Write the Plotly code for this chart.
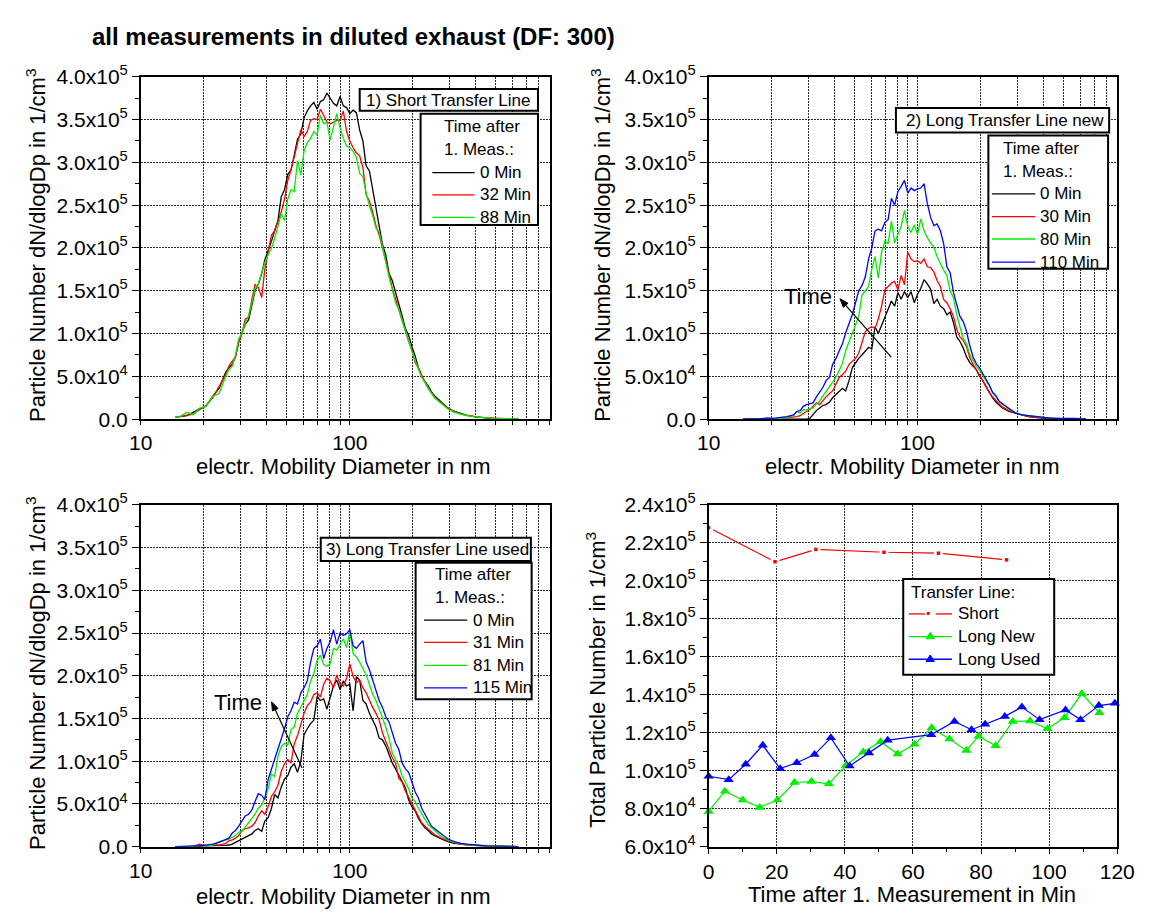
import math
import plotly.graph_objects as go

FIG_W, FIG_H = 1155, 919
FONT = "Liberation Sans, Arial, Helvetica, sans-serif"

# ---------------------------------------------------------------- data
# SMPS channel mid-point diameters, nm
DIAMETER_NM = [
    14.6, 15.4, 16.6, 17.8, 19.1, 20.5, 22.1, 23.7,
    25.5, 26.4, 27.4, 28.4, 29.4, 30.5, 31.6, 32.8, 34.0, 35.2,
    36.5, 37.9, 39.2, 40.7, 42.2, 43.7, 45.3, 47.0, 48.7, 50.5,
    52.3, 54.2, 56.2, 58.3, 60.4, 62.6, 64.9, 67.3, 69.8, 72.3,
    75.0, 77.7, 80.6, 83.5, 86.6, 89.8, 93.1, 96.5, 100.0, 103.7,
    107.5, 111.4, 115.5, 119.7, 124.1, 128.6, 133.4, 138.2, 143.3, 148.6,
    154.0, 159.6, 165.5, 171.5, 177.8, 184.4, 191.1, 198.1, 205.4, 212.9,
    220.7, 228.8, 237.2, 245.9, 254.9,
    273.9, 294.3, 316.3, 339.9, 365.3, 392.5, 421.8, 453.3, 487.1, 523.5,
    562.5, 604.5, 640.0,
]

# dN/dlogDp in units of 1e5 per cm^3
# 1) short transfer line
SHORT_0MIN = [
    0.02, 0.03, 0.04, 0.08, 0.12, 0.15, 0.27, 0.36,
    0.55, 0.60, 0.64, 0.73, 0.90, 1.01, 1.11, 1.16, 1.32, 1.50,
    1.58, 1.70, 1.86, 1.96, 2.08, 2.20, 2.32, 2.60, 2.68, 2.86,
    2.91, 3.08, 3.27, 3.33, 3.52, 3.60, 3.66, 3.70, 3.62, 3.71,
    3.73, 3.81, 3.74, 3.69, 3.66, 3.77, 3.66, 3.64, 3.57, 3.61,
    3.58, 3.38, 3.25, 2.96, 2.90, 2.68, 2.48, 2.26, 2.04, 1.92,
    1.70, 1.62, 1.49, 1.36, 1.21, 1.06, 0.98, 0.85, 0.74, 0.60,
    0.50, 0.44, 0.39, 0.32, 0.27,
    0.20, 0.13, 0.09, 0.065, 0.045, 0.03, 0.02, 0.015, 0.01, 0.008,
    0.006, 0.004, 0.003,
]
SHORT_32MIN = [
    0.02, 0.03, 0.05, 0.06, 0.11, 0.16, 0.25, 0.38,
    0.52, 0.62, 0.67, 0.73, 0.90, 1.00, 1.17, 1.19, 1.40, 1.57,
    1.54, 1.42, 1.75, 1.95, 2.15, 2.20, 2.30, 2.42, 2.57, 2.79,
    2.91, 3.06, 3.19, 3.38, 3.30, 3.36, 3.49, 3.51, 3.50, 3.62,
    3.55, 3.47, 3.45, 3.47, 3.49, 3.49, 3.60, 3.36, 3.25, 3.17,
    3.11, 3.08, 2.94, 2.62, 2.55, 2.42, 2.26, 2.15, 2.00, 1.87,
    1.70, 1.53, 1.40, 1.28, 1.17, 1.02, 0.91, 0.81, 0.66, 0.60,
    0.51, 0.43, 0.36, 0.30, 0.25,
    0.19, 0.13, 0.09, 0.06, 0.045, 0.03, 0.02, 0.015, 0.01, 0.008,
    0.006, 0.004, 0.003,
]
SHORT_88MIN = [
    0.02, 0.03, 0.08, 0.05, 0.13, 0.15, 0.27, 0.30,
    0.50, 0.58, 0.62, 0.75, 0.94, 1.00, 1.12, 1.21, 1.36, 1.52,
    1.58, 1.70, 1.83, 1.92, 2.00, 2.11, 2.26, 2.40, 2.32, 2.57,
    2.68, 2.66, 3.02, 2.85, 3.13, 3.23, 3.28, 3.36, 3.32, 3.55,
    3.45, 3.47, 3.26, 3.43, 3.57, 3.40, 3.28, 3.19, 3.17, 3.13,
    3.06, 2.87, 2.83, 2.64, 2.49, 2.38, 2.23, 2.19, 2.00, 1.85,
    1.66, 1.51, 1.36, 1.28, 1.15, 1.02, 0.89, 0.79, 0.68, 0.58,
    0.49, 0.43, 0.36, 0.30, 0.25,
    0.18, 0.12, 0.08, 0.06, 0.04, 0.03, 0.02, 0.015, 0.01, 0.008,
    0.006, 0.004, 0.003,
]

# 2) long transfer line, new
NEW_0MIN = [
    0.0, 0.0, 0.0, 0.0, 0.0, 0.0, 0.0, 0.0,
    0.0, 0.0, 0.0, 0.0, 0.0, 0.01, 0.06, 0.10, 0.13, 0.16,
    0.17, 0.20, 0.25, 0.29, 0.32, 0.36, 0.33, 0.45, 0.60, 0.66,
    0.71, 0.75, 0.79, 0.84, 0.82, 1.08, 1.00, 1.10, 1.20, 1.28,
    1.38, 1.32, 1.48, 1.40, 1.49, 1.42, 1.49, 1.36, 1.46, 1.53,
    1.63, 1.58, 1.52, 1.35, 1.40, 1.32, 1.29, 1.22, 1.25, 1.13,
    0.96, 0.91, 0.83, 0.73, 0.66, 0.62, 0.58, 0.50, 0.45, 0.38,
    0.31, 0.25, 0.20, 0.16, 0.13,
    0.09, 0.07, 0.05, 0.03, 0.02, 0.01, 0.008, 0.006, 0.004, 0.003,
    0.002, 0.001, 0.0,
]
NEW_30MIN = [
    0.0, 0.0, 0.0, 0.0, 0.0, 0.005, 0.01, 0.015,
    0.02, 0.03, 0.04, 0.07, 0.09, 0.11, 0.15, 0.19, 0.17, 0.22,
    0.26, 0.30, 0.33, 0.41, 0.49, 0.52, 0.56, 0.64, 0.68, 0.71,
    0.77, 0.90, 1.02, 1.06, 1.08, 1.06, 1.17, 1.32, 1.51, 1.55,
    1.59, 1.61, 1.51, 1.68, 1.57, 1.95, 1.87, 1.84, 1.85, 1.82,
    1.87, 1.78, 1.77, 1.72, 1.62, 1.55, 1.40, 1.36, 1.29, 1.20,
    1.05, 0.96, 0.92, 0.85, 0.72, 0.64, 0.58, 0.52, 0.45, 0.38,
    0.31, 0.26, 0.22, 0.18, 0.14,
    0.10, 0.07, 0.05, 0.03, 0.02, 0.015, 0.01, 0.008, 0.006, 0.004,
    0.003, 0.002, 0.001,
]
NEW_80MIN = [
    0.0, 0.0, 0.0, 0.0, 0.005, 0.01, 0.01, 0.02,
    0.04, 0.09, 0.07, 0.11, 0.11, 0.12, 0.13, 0.18, 0.21, 0.27,
    0.32, 0.38, 0.43, 0.49, 0.58, 0.65, 0.80, 0.90, 1.02, 1.10,
    1.20, 1.45, 1.50, 1.55, 1.75, 1.90, 1.65, 1.95, 2.08, 2.05,
    2.31, 2.06, 2.16, 2.25, 2.44, 2.25, 2.18, 2.27, 2.16, 2.34,
    2.20, 2.12, 2.06, 2.01, 1.90, 1.82, 1.74, 1.68, 1.50, 1.42,
    1.22, 1.08, 0.94, 0.88, 0.76, 0.69, 0.62, 0.57, 0.51, 0.46,
    0.39, 0.32, 0.28, 0.21, 0.17,
    0.12, 0.08, 0.05, 0.04, 0.03, 0.02, 0.015, 0.01, 0.008, 0.006,
    0.004, 0.003, 0.002,
]
NEW_110MIN = [
    0.0, 0.0, 0.0, 0.005, 0.015, 0.01, 0.02, 0.03,
    0.05, 0.09, 0.10, 0.15, 0.17, 0.18, 0.19, 0.26, 0.31, 0.37,
    0.45, 0.49, 0.64, 0.71, 0.80, 0.88, 1.01, 1.11, 1.22, 1.36,
    1.50, 1.56, 1.66, 1.87, 2.00, 2.20, 2.22, 2.20, 2.30, 2.33,
    2.58, 2.50, 2.66, 2.72, 2.79, 2.64, 2.70, 2.67, 2.69, 2.70,
    2.75, 2.52, 2.36, 2.26, 2.28, 2.20, 2.05, 1.78, 1.71, 1.48,
    1.35, 1.20, 1.14, 1.03, 0.86, 0.73, 0.65, 0.60, 0.53, 0.46,
    0.40, 0.31, 0.27, 0.21, 0.18,
    0.12, 0.07, 0.05, 0.04, 0.03, 0.02, 0.015, 0.01, 0.01, 0.015,
    0.01, 0.005, 0.003,
]

# 3) long transfer line, used
USED_0MIN = [
    0.0, 0.0, 0.0, 0.0, 0.005, 0.01, 0.01, 0.01,
    0.015, 0.02, 0.03, 0.05, 0.07, 0.09, 0.11, 0.13, 0.15, 0.19,
    0.21, 0.18, 0.30, 0.34, 0.45, 0.61, 0.57, 0.70, 0.79, 0.83,
    0.93, 0.97, 0.87, 1.00, 1.31, 1.38, 1.44, 1.48, 1.76, 1.71,
    1.73, 1.61, 1.75, 1.88, 1.95, 1.84, 1.94, 1.88, 1.90, 1.59,
    1.99, 1.95, 1.71, 1.67, 1.56, 1.48, 1.40, 1.27, 1.25, 1.18,
    1.07, 0.98, 0.91, 0.84, 0.76, 0.69, 0.55, 0.47, 0.42, 0.33,
    0.27, 0.22, 0.19, 0.15, 0.13,
    0.09, 0.06, 0.04, 0.03, 0.02, 0.015, 0.01, 0.008, 0.005, 0.004,
    0.003, 0.002, 0.001,
]
USED_31MIN = [
    0.0, 0.0, 0.0, 0.005, 0.03, 0.01, 0.02, 0.02,
    0.04, 0.07, 0.08, 0.10, 0.13, 0.19, 0.21, 0.22, 0.24, 0.28,
    0.36, 0.42, 0.38, 0.47, 0.59, 0.64, 0.72, 0.88, 0.97, 1.02,
    0.98, 1.20, 1.30, 1.44, 1.56, 1.65, 1.69, 1.78, 1.80, 1.75,
    1.90, 1.97, 1.94, 1.86, 2.01, 1.90, 1.88, 1.97, 2.14, 1.99,
    1.92, 1.95, 1.86, 1.80, 1.71, 1.63, 1.56, 1.48, 1.33, 1.23,
    1.14, 1.04, 0.98, 0.80, 0.76, 0.65, 0.58, 0.50, 0.42, 0.35,
    0.28, 0.24, 0.21, 0.17, 0.14,
    0.10, 0.07, 0.05, 0.03, 0.02, 0.015, 0.01, 0.008, 0.006, 0.004,
    0.003, 0.002, 0.001,
]
USED_81MIN = [
    0.0, 0.0, 0.005, 0.005, 0.01, 0.01, 0.02, 0.06,
    0.08, 0.09, 0.11, 0.13, 0.17, 0.18, 0.23, 0.28, 0.33, 0.38,
    0.45, 0.49, 0.57, 0.68, 0.85, 0.82, 1.06, 1.17, 1.21, 1.19,
    1.37, 1.40, 1.56, 1.63, 1.71, 1.78, 1.94, 2.03, 2.18, 2.24,
    2.13, 2.11, 2.14, 2.32, 2.30, 2.37, 2.43, 2.33, 2.52, 2.26,
    2.22, 2.16, 2.09, 2.01, 1.90, 1.78, 1.71, 1.61, 1.52, 1.40,
    1.27, 1.10, 1.02, 0.95, 0.83, 0.76, 0.68, 0.57, 0.53, 0.45,
    0.38, 0.32, 0.26, 0.22, 0.19,
    0.12, 0.08, 0.05, 0.035, 0.025, 0.02, 0.015, 0.01, 0.008, 0.006,
    0.004, 0.003, 0.002,
]
USED_115MIN = [
    0.0, 0.005, 0.005, 0.01, 0.01, 0.02, 0.03, 0.05,
    0.08, 0.10, 0.16, 0.19, 0.24, 0.30, 0.36, 0.38, 0.43, 0.53,
    0.62, 0.60, 0.55, 0.79, 0.91, 1.02, 1.14, 1.25, 1.38, 1.52,
    1.59, 1.69, 1.67, 1.80, 1.86, 1.94, 2.16, 2.32, 2.35, 2.43,
    2.20, 2.32, 2.40, 2.54, 2.37, 2.50, 2.47, 2.49, 2.54, 2.35,
    2.32, 2.37, 2.41, 2.16, 2.07, 1.95, 1.82, 1.71, 1.63, 1.52,
    1.46, 1.33, 1.21, 1.14, 0.98, 0.91, 0.87, 0.76, 0.64, 0.57,
    0.45, 0.38, 0.30, 0.24, 0.21,
    0.15, 0.09, 0.06, 0.04, 0.03, 0.02, 0.015, 0.01, 0.01, 0.008,
    0.005, 0.003, 0.002,
]

# 4) total particle number vs time, in units of 1e5 per cm^3
TIME_SHORT = [0, 19.5, 31.5, 51.5, 67.5, 87.5]
TOTAL_SHORT = [2.28, 2.10, 2.165, 2.15, 2.145, 2.11]
TIME_LONG_NEW = [0, 4.8, 10.0, 15.0, 20.2, 25.2, 30.2, 35.3, 40.3, 45.4, 50.5, 55.5,
                 60.5, 65.5, 70.7, 75.7, 79.3, 84.3, 89.3, 94.4, 99.5, 104.5, 109.6, 114.8]
TOTAL_LONG_NEW = [0.786, 0.892, 0.846, 0.807, 0.846, 0.938, 0.943, 0.931, 1.028, 1.098,
                  1.153, 1.088, 1.139, 1.226, 1.167, 1.107, 1.182, 1.132, 1.259, 1.262,
                  1.221, 1.279, 1.405, 1.305]
TIME_LONG_USED = [0, 5.9, 10.9, 15.9, 21.0, 25.9, 31.1, 35.9, 41.4, 47.1, 52.6, 65.4,
                  72.2, 77.2, 81.2, 87.0, 92.0, 97.2, 104.8, 109.2, 114.6, 119.3]
TOTAL_LONG_USED = [0.971, 0.953, 1.034, 1.134, 1.011, 1.042, 1.085, 1.173, 1.025, 1.093,
                   1.161, 1.190, 1.259, 1.216, 1.245, 1.286, 1.335, 1.269, 1.320, 1.269,
                   1.343, 1.355]

UNIT = 1e5  # values above are given in 1e5 per cm^3

# axis ticks
DIAM_LABELLED = [10, 100]
DIAM_GRID = [20, 30, 40, 50, 60, 70, 80, 90, 200, 300, 400, 500, 600, 700, 800, 900]
CONC_TICKS = [0, 50000, 100000, 150000, 200000, 250000, 300000, 350000, 400000]
CONC_TEXT = ["0.0", "5.0x10<sup>4</sup>", "1.0x10<sup>5</sup>", "1.5x10<sup>5</sup>",
             "2.0x10<sup>5</sup>", "2.5x10<sup>5</sup>", "3.0x10<sup>5</sup>",
             "3.5x10<sup>5</sup>", "4.0x10<sup>5</sup>"]
CONC_MINOR = [25000, 75000, 125000, 175000, 225000, 275000, 325000, 375000]
TOTAL_TICKS = [60000, 80000, 100000, 120000, 140000, 160000, 180000, 200000, 220000, 240000]
TOTAL_TEXT = ["6.0x10<sup>4</sup>", "8.0x10<sup>4</sup>", "1.0x10<sup>5</sup>",
              "1.2x10<sup>5</sup>", "1.4x10<sup>5</sup>", "1.6x10<sup>5</sup>",
              "1.8x10<sup>5</sup>", "2.0x10<sup>5</sup>", "2.2x10<sup>5</sup>",
              "2.4x10<sup>5</sup>"]
TOTAL_MINOR = [70000, 90000, 110000, 130000, 150000, 170000, 190000, 210000, 230000]
TIME_TICKS = [0, 20, 40, 60, 80, 100, 120]
TIME_MINOR = [10, 30, 50, 70, 90, 110]

BLACK, RED, GREEN, BLUE = "#000000", "#ff0000", "#00ee00", "#0000ff"


# ---------------------------------------------------------------- helpers
def X(p):
    return p / FIG_W


def Y(p):
    return 1 - p / FIG_H


fig = go.Figure()


def curve(values, color, xa, ya):
    fig.add_trace(go.Scatter(
        x=DIAMETER_NM, y=[v * UNIT for v in values], mode="lines",
        line=dict(color=color, width=1.3), xaxis=xa, yaxis=ya,
        showlegend=False, hoverinfo="skip"))


curve(SHORT_0MIN, BLACK, "x", "y")
curve(SHORT_32MIN, RED, "x", "y")
curve(SHORT_88MIN, GREEN, "x", "y")

curve(NEW_0MIN, BLACK, "x2", "y2")
curve(NEW_30MIN, RED, "x2", "y2")
curve(NEW_80MIN, GREEN, "x2", "y2")
curve(NEW_110MIN, BLUE, "x2", "y2")

curve(USED_0MIN, BLACK, "x3", "y3")
curve(USED_31MIN, RED, "x3", "y3")
curve(USED_81MIN, GREEN, "x3", "y3")
curve(USED_115MIN, BLUE, "x3", "y3")

# total number vs time
short_y = [v * UNIT for v in TOTAL_SHORT]
fig.add_trace(go.Scatter(x=TIME_SHORT, y=short_y, mode="lines",
                         line=dict(color=RED, width=1.2), xaxis="x4", yaxis="y4",
                         showlegend=False, hoverinfo="skip", cliponaxis=False))
# white halo opens a small gap in the line around each point
fig.add_trace(go.Scatter(x=TIME_SHORT, y=short_y, mode="markers",
                         marker=dict(symbol="square", size=9, color="white"),
                         xaxis="x4", yaxis="y4", showlegend=False,
                         hoverinfo="skip", cliponaxis=False))
fig.add_trace(go.Scatter(x=TIME_SHORT, y=short_y, mode="markers",
                         marker=dict(symbol="square", size=3.5, color=RED),
                         xaxis="x4", yaxis="y4", showlegend=False,
                         hoverinfo="skip", cliponaxis=False))
fig.add_trace(go.Scatter(x=TIME_LONG_NEW, y=[v * UNIT for v in TOTAL_LONG_NEW],
                         mode="lines+markers", line=dict(color=GREEN, width=1.2),
                         marker=dict(symbol="triangle-up", size=9, color=GREEN),
                         xaxis="x4", yaxis="y4", showlegend=False,
                         hoverinfo="skip", cliponaxis=False))
fig.add_trace(go.Scatter(x=TIME_LONG_USED, y=[v * UNIT for v in TOTAL_LONG_USED],
                         mode="lines+markers", line=dict(color=BLUE, width=1.2),
                         marker=dict(symbol="triangle-up", size=9, color=BLUE),
                         xaxis="x4", yaxis="y4", showlegend=False,
                         hoverinfo="skip", cliponaxis=False))

# ---------------------------------------------------------------- axes
LEFT = [X(132.2), X(552.0)]
RIGHT = [X(715.2), X(1134.7)]
TOP = [Y(416.5), Y(64.5)]
BOTTOM = [Y(856.0), Y(504.5)]

TICKFONT = dict(family=FONT, size=21, color="black")
GRIDCOLOR, GRIDDASH = "#2a2a2a", "2px,1px"
GRID = dict(showgrid=True, gridcolor=GRIDCOLOR, griddash=GRIDDASH, gridwidth=1)
FRAME = dict(showline=True, linecolor="black", linewidth=1.6, mirror=True,
             zeroline=False, tickfont=TICKFONT, ticks="outside",
             tickcolor="black", tickwidth=1)


def diam_axis(domain, anchor):
    return dict(type="log", domain=domain, anchor=anchor, range=[1, 2.956],
                tickmode="array", tickvals=DIAM_LABELLED,
                ticktext=[str(v) for v in DIAM_LABELLED], ticklen=4,
                minor=dict(tickmode="array", tickvals=DIAM_GRID, ticks="outside",
                           ticklen=4, tickcolor="black", showgrid=True,
                           gridcolor=GRIDCOLOR, griddash=GRIDDASH, gridwidth=1),
                **GRID, **FRAME)


def conc_axis(domain, anchor):
    return dict(domain=domain, anchor=anchor, range=[0, 400000],
                tickmode="array", tickvals=CONC_TICKS, ticktext=CONC_TEXT,
                ticklen=7,
                minor=dict(tickmode="array", tickvals=CONC_MINOR, ticks="outside",
                           ticklen=3.5, tickcolor="black", showgrid=False),
                **GRID, **FRAME)


fig.update_layout(
    xaxis=diam_axis(LEFT, "y"), yaxis=conc_axis(TOP, "x"),
    xaxis2=diam_axis(RIGHT, "y2"), yaxis2=conc_axis(TOP, "x2"),
    xaxis3=diam_axis(LEFT, "y3"), yaxis3=conc_axis(BOTTOM, "x3"),
    xaxis4=dict(domain=RIGHT, anchor="y4", range=[0, 120], tickmode="array",
                tickvals=TIME_TICKS, ticklen=5,
                minor=dict(tickmode="array", tickvals=TIME_MINOR, ticks="outside",
                           ticklen=3, tickcolor="black", showgrid=False),
                **GRID, **FRAME),
    yaxis4=dict(domain=BOTTOM, anchor="x4", range=[60000, 240000], tickmode="array",
                tickvals=TOTAL_TICKS, ticktext=TOTAL_TEXT, ticklen=7,
                minor=dict(tickmode="array", tickvals=TOTAL_MINOR, ticks="outside",
                           ticklen=3.5, tickcolor="black", showgrid=False),
                **GRID, **FRAME),
)

# ---------------------------------------------------------------- text, boxes, keys
shapes, notes = [], []


def box(x0, y0, x1, y1):
    shapes.append(dict(type="rect", xref="paper", yref="paper", x0=X(x0), x1=X(x1),
                       y0=Y(y1), y1=Y(y0), line=dict(color="black", width=2),
                       fillcolor="white", layer="above"))


def seg(x0, y0, x1, y1, color, width=1.3):
    shapes.append(dict(type="line", xref="paper", yref="paper", x0=X(x0), x1=X(x1),
                       y0=Y(y0), y1=Y(y1), line=dict(color=color, width=width),
                       layer="above"))


def polygon(points, color):
    path = "M " + " L ".join(f"{X(px)},{Y(py)}" for px, py in points) + " Z"
    shapes.append(dict(type="path", xref="paper", yref="paper", path=path,
                       fillcolor=color, line=dict(color=color, width=1), layer="above"))


def tri(cx, cy, color):
    polygon([(cx - 4.3, cy + 2.3), (cx + 4.3, cy + 2.3), (cx, cy - 4.4)], color)


def dot(cx, cy, color):
    shapes.append(dict(type="rect", xref="paper", yref="paper", x0=X(cx - 1.5),
                       x1=X(cx + 1.5), y0=Y(cy + 1.5), y1=Y(cy - 1.5),
                       fillcolor=color, line=dict(width=0), layer="above"))


def arrow(head, tail, length=9.0, half=3.2):
    # shaft plus a small filled head pointing at `head`
    dx, dy = tail[0] - head[0], tail[1] - head[1]
    n = math.hypot(dx, dy)
    ux, uy = dx / n, dy / n
    bx, by = head[0] + ux * length, head[1] + uy * length
    seg(bx, by, tail[0], tail[1], "black", width=1.2)
    polygon([head, (bx - uy * half, by + ux * half), (bx + uy * half, by - ux * half)],
            "black")


def text(x, y, s, size=17, anchor="left", angle=0, bold=False):
    notes.append(dict(xref="paper", yref="paper", x=X(x), y=Y(y), text=s,
                      showarrow=False, xanchor=anchor, yanchor="middle",
                      textangle=angle, borderpad=0,
                      font=dict(family=FONT, size=size, color="black",
                                weight="bold" if bold else "normal")))


text(81, 23.5, "all measurements in diluted exhaust (DF: 300)", size=24, bold=True)

# axis titles
YTITLE = "Particle Number dN/dlogDp in 1/cm<sup>3</sup>"
XTITLE = "electr. Mobility Diameter in nm"
text(24, 238, YTITLE, size=22, anchor="center", angle=-90)
text(604, 238, YTITLE, size=22, anchor="center", angle=-90)
text(24, 678, YTITLE, size=22, anchor="center", angle=-90)
text(600, 684, "Total Particle Number in 1/cm<sup>3</sup>", size=22, anchor="center", angle=-90)
text(340, 465, XTITLE, size=22, anchor="center")
text(924, 465, XTITLE, size=22, anchor="center")
text(340, 907, XTITLE, size=22, anchor="center")
text(924, 905, "Time after 1. Measurement in Min", size=22, anchor="center")

# panel 1 keys
box(357, 77, 540, 99.5)
text(362, 88.5, "1) Short Transfer Line")
box(419.5, 102.5, 540, 217)
text(442, 116, "Time after")
text(443, 139, "1. Meas.:")
for yy, col, lab in [(163, BLACK, "0 Min"), (186, RED, "32 Min"), (209, GREEN, "88 Min")]:
    seg(431.5, yy, 475, yy, col)
    text(479.5, yy, lab)

# panel 2 keys
box(907.5, 96.7, 1126.4, 121.7)
text(916.5, 109.5, "2) Long Transfer Line new")
box(1002.4, 125, 1125.3, 262)
text(1016.4, 138.5, "Time after")
text(1016.4, 162, "1. Meas.:")
for yy, col, lab in [(185, BLACK, "0 Min"), (208.3, RED, "30 Min"),
                     (231.3, GREEN, "80 Min"), (255, BLUE, "110 Min")]:
    seg(1006, yy, 1050.5, yy, col)
    text(1054.5, yy, lab)

# panel 3 keys
box(317, 538.3, 532.7, 562.3)
text(321, 550.5, "3) Long Transfer Line used")
box(414.4, 564, 533.5, 704.3)
text(433.6, 576.5, "Time after")
text(433.6, 599.5, "1. Meas.:")
for yy, col, lab in [(623, BLACK, "0 Min"), (646, RED, "31 Min"),
                     (669.5, GREEN, "81 Min"), (692.7, BLUE, "115 Min")]:
    seg(423, yy, 467.3, yy, col)
    text(472, yy, lab)

# panel 4 key
box(915, 580.7, 1070, 679.3)
text(921.5, 594.5, "Transfer Line:")
seg(920.7, 616.7, 937.3, 616.7, RED)
seg(948.3, 616.7, 965, 616.7, RED)
dot(940.7, 616.2, RED)
text(970, 616.7, "Short")
seg(920.7, 640, 965, 640, GREEN)
tri(942.7, 640, GREEN)
text(970, 640, "Long New")
seg(920.7, 663.3, 965, 663.3, BLUE)
tri(942.7, 663.3, BLUE)
text(970, 663.3, "Long Used")

# time arrows
text(791.5, 290, "Time", size=22)
arrow((850, 292.7), (902.7, 352.7))
text(206, 708, "Time", size=22)
arrow((266.5, 707), (297.8, 775))

fig.update_layout(
    width=FIG_W, height=FIG_H, margin=dict(l=0, r=0, t=0, b=0),
    paper_bgcolor="white", plot_bgcolor="white", showlegend=False,
    shapes=shapes, annotations=notes, font=dict(family=FONT, color="black"),
)

fig.write_html("out.html")
